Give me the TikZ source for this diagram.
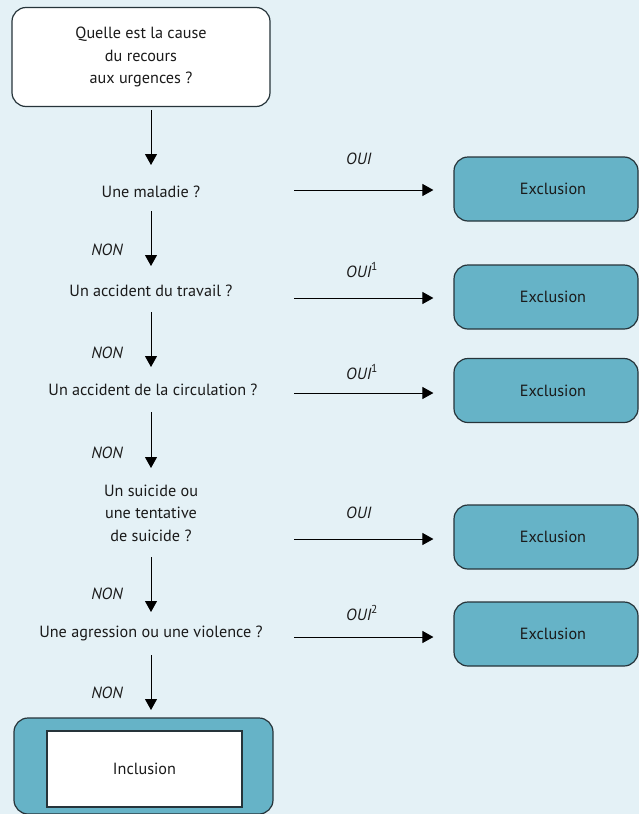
\documentclass[tikz,border=0pt]{standalone}
\usepackage{fontspec}
\setmainfont{PT Sans}
\usetikzlibrary{arrows.meta}
\definecolor{bgblue}{HTML}{E4F1F6}
\definecolor{boxteal}{HTML}{66B3C7}
\definecolor{edgec}{HTML}{26343A}
\definecolor{txt}{HTML}{1A1A1A}
\newcommand{\supnum}[1]{\raisebox{0.42em}{\fontsize{11.5}{11.5}\selectfont\upshape #1}}
\tikzset{
  basefont/.style={font=\fontsize{16.2}{22.5}\selectfont, text=txt},
  arr/.style={line width=1pt, draw=black, -{Triangle[length=11pt,width=12pt]}},
  question/.style={basefont, align=center, inner sep=0pt},
  lbl/.style={basefont, font=\fontsize{16.2}{22.5}\selectfont\itshape, inner sep=0pt},
  excl/.style={basefont, draw=edgec, line width=1.2pt, fill=boxteal, rounded corners=14pt, minimum width=184pt, minimum height=64pt},
}
\begin{document}
\begin{tikzpicture}[x=1pt,y=-1pt]
\fill[bgblue] (0,0) rectangle (639,814);
\useasboundingbox (0,0) rectangle (639,814);

% top box
\node[question, draw=edgec, line width=1.2pt, rounded corners=14pt, fill=white, minimum width=258pt, minimum height=99pt] (top) at (141,57) {Quelle est la cause\\du recours\\aux urgences ?};

% questions
\node[question] (q1) at (151,192) {Une maladie ?};
\node[question] (q2) at (151,291) {Un accident du travail ?};
\node[question] (q3) at (153,390) {Un accident de la circulation ?};
\node[question] (q4) at (151,513) {Un suicide ou\\une tentative\\de suicide ?};
\node[question] (q5) at (151,633) {Une agression ou une violence ?};

% exclusion boxes
\node[excl] (e1) at (546,189) {\hspace*{14pt}Exclusion};
\node[excl] (e2) at (546,297) {\hspace*{14pt}Exclusion};
\node[excl] (e3) at (546,390.5) {\hspace*{14pt}Exclusion};
\node[excl] (e4) at (546,537) {\hspace*{14pt}Exclusion};
\node[excl] (e5) at (546,634) {\hspace*{14pt}Exclusion};

% inclusion
\node[draw=edgec, line width=1.2pt, fill=boxteal, rounded corners=14pt, minimum width=259pt, minimum height=96pt] (incl) at (143.5,766) {};
\node[basefont, draw=edgec, line width=1.2pt, fill=white, minimum width=195pt, minimum height=76pt] (inclin) at (144.5,769) {Inclusion};

% vertical arrow coordinates
\coordinate (v1a) at (151,110); \coordinate (v1b) at (151,165);
\coordinate (v2a) at (151,211); \coordinate (v2b) at (151,266);
\coordinate (v3a) at (151,312); \coordinate (v3b) at (151,367);
\coordinate (v4a) at (151,412); \coordinate (v4b) at (151,468);
\coordinate (v5a) at (151,557); \coordinate (v5b) at (151,612);
\coordinate (v6a) at (151,655); \coordinate (v6b) at (151,710);
\draw[arr] (v1a) -- (v1b);
\draw[arr] (v2a) -- (v2b);
\draw[arr] (v3a) -- (v3b);
\draw[arr] (v4a) -- (v4b);
\draw[arr] (v5a) -- (v5b);
\draw[arr] (v6a) -- (v6b);

% NON labels
\node[lbl] (n1) at (107,250) {NON};
\node[lbl] (n2) at (107,353) {NON};
\node[lbl] (n3) at (107,453) {NON};
\node[lbl] (n4) at (107,594) {NON};
\node[lbl] (n5) at (107,693) {NON};

% horizontal arrows
\coordinate (h1) at (294,190);
\coordinate (h2) at (294,298);
\coordinate (h3) at (294,393);
\coordinate (h4) at (294,539);
\coordinate (h5) at (294,637);
\draw[arr, shorten >=20pt] (h1) -- (h1 -| e1.west);
\draw[arr, shorten >=20pt] (h2) -- (h2 -| e2.west);
\draw[arr, shorten >=20pt] (h3) -- (h3 -| e3.west);
\draw[arr, shorten >=20pt] (h4) -- (h4 -| e4.west);
\draw[arr, shorten >=20pt] (h5) -- (h5 -| e5.west);

% OUI labels
\node[lbl, anchor=west] (o1) at (346,159) {OUI};
\node[lbl, anchor=west] (o2) at (346,270) {OUI\supnum{1}};
\node[lbl, anchor=west] (o3) at (346,372) {OUI\supnum{1}};
\node[lbl, anchor=west] (o4) at (346,513) {OUI};
\node[lbl, anchor=west] (o5) at (346,613) {OUI\supnum{2}};
\end{tikzpicture}
\end{document}
